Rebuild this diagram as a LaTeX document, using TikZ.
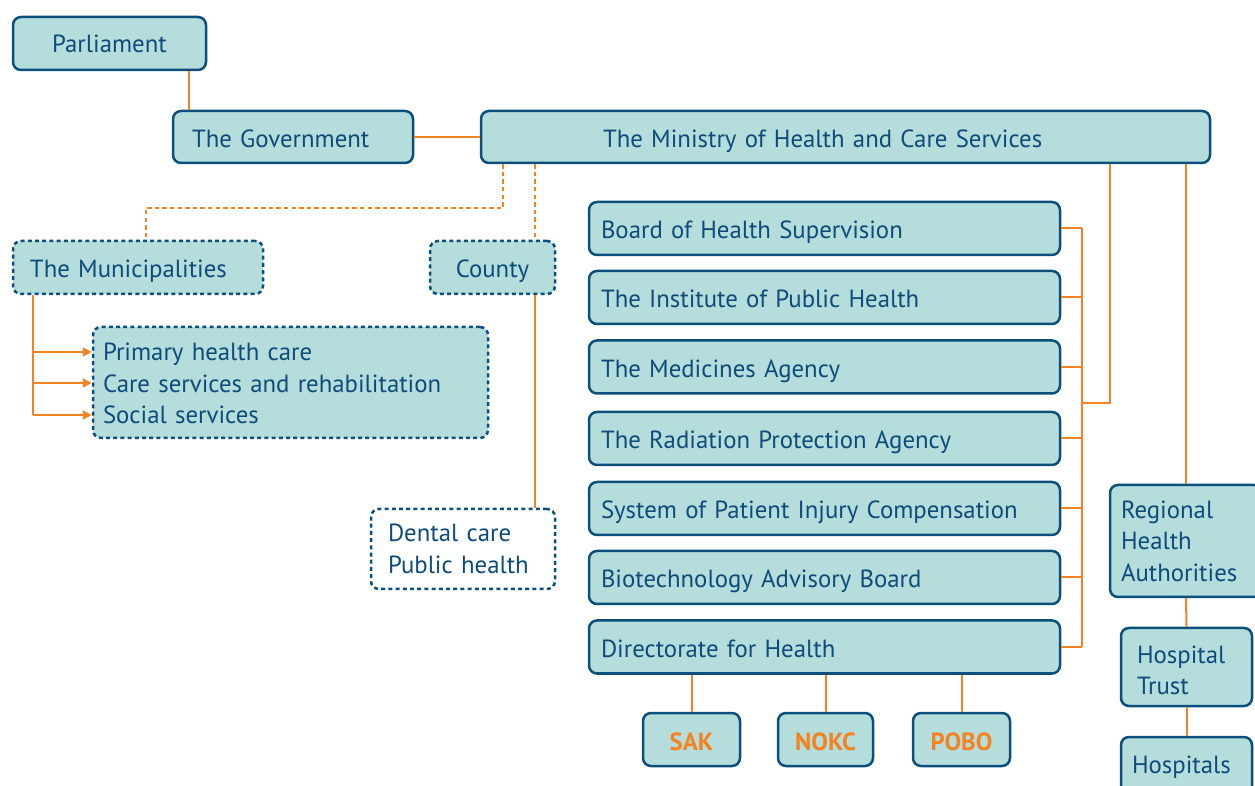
\documentclass[tikz,border=0pt]{standalone}
\usepackage{fontspec}
\setmainfont{PT Sans}
\usetikzlibrary{arrows.meta}
\definecolor{boxfill}{HTML}{B4DDDB}
\definecolor{bdr}{HTML}{0B4F7C}
\definecolor{txt}{HTML}{0E4B7A}
\definecolor{org}{HTML}{F58220}
\tikzset{
  box/.style={draw=bdr, fill=boxfill, line width=1.25pt, rounded corners=4pt, text=txt,
    font=\fontsize{12.4}{15.75}\selectfont, inner ysep=0pt},
  one/.style={text height=10.4pt, text depth=0pt},
  dbox/.style={box, dash pattern=on 2pt off 1.6pt},
  lft/.style={align=left},
  con/.style={draw=org, line width=1pt},
  dcon/.style={con, dash pattern=on 2.2pt off 1.6pt},
  arr/.style={con, -{Triangle[length=4.5pt,width=4.5pt]}},
  abbr/.style={box, text=org, font=\fontsize{12.4}{15.75}\selectfont\bfseries, inner xsep=0pt,
    text height=11.2pt, text depth=0pt}
}
\begin{document}
\begin{tikzpicture}[x=0.5pt,y=-0.5pt]
\useasboundingbox (0,0) rectangle (1255,786);
% nodes
\node[box, minimum width=96.5pt, minimum height=26.5pt, inner xsep=0pt, text height=9.4pt, text depth=0pt] (parl) at (109.5,43.5) {Parliament};
\node[box, one, lft, minimum width=120pt, minimum height=26pt, inner xsep=9.5pt, text width=101pt] (gov) at (293,137) {The Government};
\node[box, one, lft, minimum width=364.5pt, minimum height=26pt, inner xsep=61pt, text width=242.5pt] (min) at (845.5,137) {The Ministry of Health and Care Services};
\node[dbox, one, lft, minimum width=125pt, minimum height=26.5pt, inner xsep=8.5pt, text width=108pt] (mun) at (138,267.5) {The Municipalities};
\node[dbox, one, minimum width=62.5pt, minimum height=26.5pt, inner xsep=0pt] (county) at (492.5,267.5) {County};
\node[dbox, lft, minimum width=197.5pt, minimum height=55.5pt, inner xsep=5pt, text width=187.5pt] (prim) at (290.5,382.5) {\rule{0pt}{10pt}Primary health care\\Care services and rehabilitation\\Social services};
\node[dbox, lft, fill=white, minimum width=92pt, minimum height=40pt, inner xsep=8.5pt, text width=75pt] (dental) at (463,549) {Dental care\\Public health};
\foreach \n/\y/\t in {ag1/228.5/Board of Health Supervision,
                      ag2/297.5/The Institute of Public Health,
                      ag3/367/The Medicines Agency,
                      ag4/438.5/The Radiation Protection Agency,
                      ag5/508.5/System of Patient Injury Compensation,
                      ag6/577.5/Biotechnology Advisory Board,
                      ag7/647/Directorate for Health}
  \node[box, one, lft, minimum width=235.5pt, minimum height=26.5pt, inner xsep=6pt, text width=223.5pt] (\n) at (824.5,\y) {\t};
\node[box, lft, minimum width=76pt, minimum height=56pt, inner xsep=5.5pt, text width=65pt] (reg) at (1186,541) {Regional\\Health\\Authorities};
\node[box, lft, minimum width=65.5pt, minimum height=39pt, inner xsep=8pt, text width=49.5pt] (trust) at (1186.5,667) {\rule{0pt}{12pt}Hospital\\Trust};
\node[box, lft, minimum width=65.5pt, minimum height=30pt, inner xsep=5.5pt, text width=54.5pt] (hosp) at (1186.5,767) {Hospitals};
\node[abbr, minimum width=48.5pt, minimum height=26.5pt] (sak) at (691.5,739.5) {SAK};
\node[abbr, minimum width=47.5pt, minimum height=26.5pt] (nokc) at (825.5,739.5) {NOKC};
\node[abbr, minimum width=48.5pt, minimum height=26.5pt] (pobo) at (961.5,739.5) {POBO};
% helper coordinates
\coordinate (xa) at (189,0);
\coordinate (xb) at (503,0);
\coordinate (xc) at (146,0);
\coordinate (xd) at (535,0);
\coordinate (xe) at (1110,0);
\coordinate (xf) at (1082,0);
\coordinate (xh) at (33,0);
\coordinate (ym) at (0,208);
\coordinate (yb) at (0,403);
\coordinate (yl1) at (0,352);
\coordinate (yl2) at (0,383);
\coordinate (yl3) at (0,415);
% connectors
\draw[con] (xa |- parl.south) -- (xa |- gov.north);
\draw[con] (gov.east) -- (min.west);
\draw[dcon] (xb |- min.south) -- (xb |- ym) -| (xc |- mun.north);
\draw[dcon] (xd |- min.south) -- (xd |- county.north);
\draw[con] (xd |- county.south) -- (xd |- dental.north);
\draw[con] (xh |- mun.south) -- (xh |- yl3);
\foreach \yy in {yl1,yl2,yl3}
  \draw[arr] (xh |- \yy) -- (prim.west |- \yy);
\foreach \n in {ag1,ag2,ag3,ag4,ag5,ag6,ag7}
  \draw[con] (\n.east) -- (xf |- \n.east);
\draw[con] (xf |- ag1.east) -- (xf |- ag7.east);
\draw[con] (xe |- min.south) |- (xf |- yb);
\draw[con] (reg.north |- min.south) -- (reg.north);
\draw[con] (reg.south) -- (trust.north);
\draw[con] (trust.south) -- (hosp.north);
\foreach \n in {sak,nokc,pobo}
  \draw[con] (\n.north |- ag7.south) -- (\n.north);
\end{tikzpicture}
\end{document}
